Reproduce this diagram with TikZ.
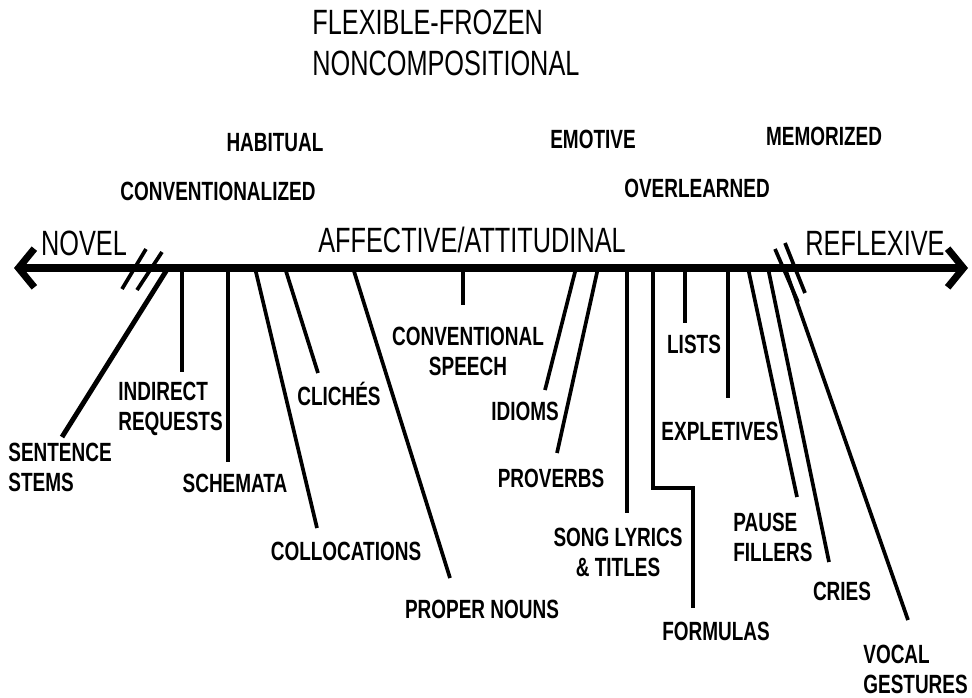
\documentclass[tikz,border=0pt]{standalone}
\usepackage{fontspec}
\setmainfont{Liberation Sans}[FakeStretch=0.72]
\usetikzlibrary{arrows.meta}

\begin{document}
\begin{tikzpicture}[x=0.02cm, y=-0.02cm,
	big/.style={inner sep=0pt, font=\fontsize{20}{23}\selectfont},
	lbl/.style={inner sep=0pt, font=\fontsize{15}{17}\selectfont\bfseries},
	leg/.style={line width=2.1pt},
	brk/.style={line width=2.1pt},
	axis/.style={line width=5pt, >={Straight Barb[length=9pt,width=22pt,line width=4pt]}, <->}]
\useasboundingbox (0,0) rectangle (972,697);
% headings
\node[big, align=left, anchor=north west] (title) at (312,10) {FLEXIBLE-FROZEN\\NONCOMPOSITIONAL};
\node[lbl, anchor=base] (habit) at (275,151) {HABITUAL};
\node[lbl, anchor=base] (convz) at (218,200) {CONVENTIONALIZED};
\node[lbl, anchor=base] (emot) at (593,148) {EMOTIVE};
\node[lbl, anchor=base] (memo) at (824,145) {MEMORIZED};
\node[lbl, anchor=base] (overl) at (697,197) {OVERLEARNED};
\node[big, anchor=base] (novel) at (84,255) {NOVEL};
\node[big, anchor=base] (affect) at (472,252) {AFFECTIVE/ATTITUDINAL};
\node[big, anchor=base] (reflex) at (875,255) {REFLEXIVE};
% continuum
\coordinate (w) at (14,268);
\coordinate (e) at (968,268);
\draw[axis] (w) -- (e);
\draw[brk] (146,249) -- (122,289); % break.left
\draw[brk] (162,252) -- (137,290);
\draw[brk] (775,249) -- (798,302); % break.right
\draw[brk] (785,243) -- (805,293);
% labels
\node[lbl, align=left, anchor=north west] (stems) at (8,443) {SENTENCE\\ STEMS};
\node[lbl, align=left, anchor=north west] (indir) at (118,382) {INDIRECT\\REQUESTS};
\node[lbl, anchor=base] (schem) at (235,492) {SCHEMATA};
\node[lbl, anchor=base] (colloc) at (346,560) {COLLOCATIONS};
\node[lbl, anchor=base] (cliche) at (339,405) {CLICHÉS};
\node[lbl, anchor=base] (proper) at (482,618) {PROPER NOUNS};
\node[lbl, align=center, anchor=north] (speech) at (468,327) {CONVENTIONAL\\SPEECH};
\node[lbl, anchor=base] (idiom) at (525,420) {IDIOMS};
\node[lbl, anchor=base] (prov) at (551,487) {PROVERBS};
\node[lbl, align=center, anchor=north] (song) at (618,528) {SONG LYRICS\\\& TITLES};
\node[lbl, anchor=base] (formula) at (716,640) {FORMULAS};
\node[lbl, anchor=base] (lists) at (694,353) {LISTS};
\node[lbl, anchor=base] (explet) at (720,440) {EXPLETIVES};
\node[lbl, align=left, anchor=north west] (pause) at (733,513) {PAUSE\\FILLERS};
\node[lbl, anchor=base] (cries) at (842,600) {CRIES};
\node[lbl, align=left, anchor=north west] (vocal) at (863,645) {VOCAL\\GESTURES};
% connectors
\coordinate (s1) at (168,268); \coordinate (t1) at (62,437); % stems
\coordinate (s2) at (182,268); \coordinate (t2) at (182,372); % indirect
\coordinate (s3) at (228,268); \coordinate (t3) at (228,462); % schemata
\coordinate (s4) at (255,268); \coordinate (t4) at (317,528); % collocations
\coordinate (s5) at (285,268); \coordinate (t5) at (318,373); % cliches
\coordinate (s6) at (353,268); \coordinate (t6) at (450,578); % proper nouns
\coordinate (s7) at (463,268); \coordinate (t7) at (463,305); % speech
\coordinate (s8) at (576,268); \coordinate (t8) at (545,390); % idioms
\coordinate (s9) at (598,268); \coordinate (t9) at (557,453); % proverbs
\coordinate (s10) at (627,268); \coordinate (t10) at (627,513); % song
\coordinate (s11) at (653,268); \coordinate (t11) at (693,608); % formulas
\coordinate (s12) at (685,268); \coordinate (t12) at (685,323); % lists
\coordinate (s13) at (728,268); \coordinate (t13) at (728,398); % expletives
\coordinate (s14) at (748,268); \coordinate (t14) at (797,497); % pause
\coordinate (s15) at (768,268); \coordinate (t15) at (829,562); % cries
\coordinate (s16) at (785,268); \coordinate (t16) at (908,620); % vocal
\draw[leg, line width=2.8pt] (s1) -- (t1);
\draw[leg] (s2) -- (t2);
\draw[leg] (s3) -- (t3);
\draw[leg] (s4) -- (t4);
\draw[leg] (s5) -- (t5);
\draw[leg] (s6) -- (t6);
\draw[leg] (s7) -- (t7);
\draw[leg] (s8) -- (t8);
\draw[leg] (s9) -- (t9);
\draw[leg] (s10) -- (t10);
\draw[leg] (s11) -- ++(0,220) -| (t11);
\draw[leg] (s12) -- (t12);
\draw[leg] (s13) -- (t13);
\draw[leg] (s14) -- (t14);
\draw[leg] (s15) -- (t15);
\draw[leg] (s16) -- (t16);
\end{tikzpicture}
\end{document}
